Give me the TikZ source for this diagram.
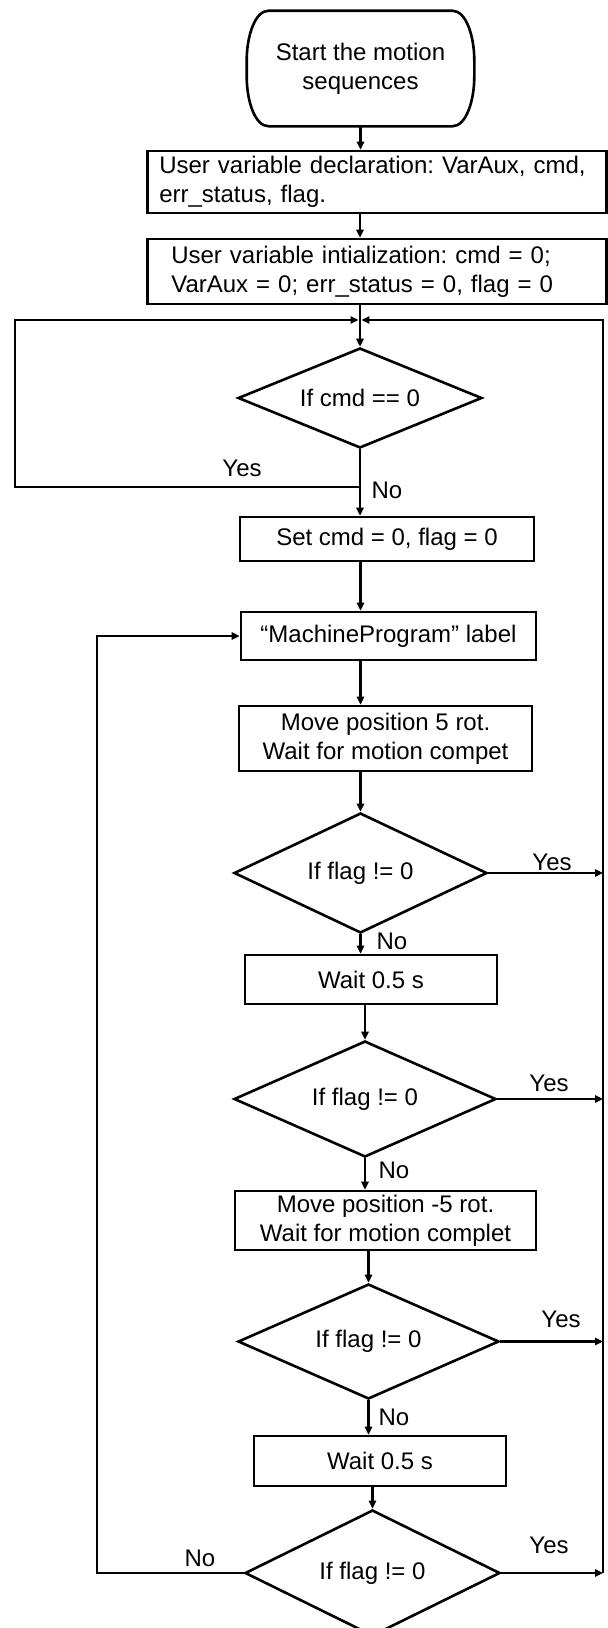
\documentclass[tikz,border=0pt]{standalone}
\usepackage{fontspec}
\setmainfont{Liberation Sans}
\usetikzlibrary{shapes.geometric,arrows.meta}

\begin{document}
\frenchspacing
\begin{tikzpicture}[x=0.5pt,y=0.5pt,yscale=-1,
  font=\fontsize{12pt}{14.5pt}\selectfont,
  line width=1.3pt,
  procbox/.style={draw, rectangle, inner sep=0pt, align=center},
  declbox/.style={draw, rectangle, anchor=west, align=left, inner ysep=2pt},
  decision/.style={draw, diamond, aspect=2.4, inner sep=0pt},
  termtext/.style={rectangle, inner sep=0pt, align=center, minimum width=112.5pt, minimum height=56.5pt},
  flow/.style={-{Triangle[length=4pt,width=3.6pt]}, line width=1.2pt},
  branch/.style={inner sep=0pt}
]
\useasboundingbox (0,0) rectangle (607,1628);

%Shape: Terminal [id:start]
\node[termtext] (start) at (360.5,68.5) {Start the motion\\sequences};
\draw ([xshift=11pt]start.north west) -- ([xshift=-11pt]start.north east)
  .. controls ([xshift=-4pt]start.north east) and ([yshift=-16pt]start.east) .. ([yshift=-4pt]start.east)
  -- ([yshift=4pt]start.east)
  .. controls ([yshift=16pt]start.east) and ([xshift=-4pt]start.south east) .. ([xshift=-11pt]start.south east)
  -- ([xshift=11pt]start.south west)
  .. controls ([xshift=4pt]start.south west) and ([yshift=16pt]start.west) .. ([yshift=4pt]start.west)
  -- ([yshift=-4pt]start.west)
  .. controls ([yshift=-16pt]start.west) and ([xshift=4pt]start.north west) .. cycle ;

%Shape: Rectangle [id:decl]
\node[declbox, inner xsep=6pt, text width=217.5pt, minimum height=31pt] (decl) at (146,182) {User variable declaration: VarAux, cmd,\\err\_status, flag.};
%Shape: Rectangle [id:init]
\node[declbox, inner xsep=12pt, text width=205.5pt, minimum height=32.5pt] (init) at (146,271.5) {User variable intialization: cmd = 0;\\VarAux = 0; err\_status = 0, flag = 0};

%Shape: Diamond [id:cmd]
\node[decision, minimum width=122pt, minimum height=50pt] (cmd) at (360,398) {If cmd == 0};
%Shape: Rectangle [id:set]
\node[procbox, minimum width=147pt, minimum height=22pt] (set) at (387,539) {Set cmd = 0, flag = 0};
%Shape: Rectangle [id:mp]
\node[procbox, minimum width=147.5pt, minimum height=24pt] (mp) at (388.5,636) {“MachineProgram” label};
%Shape: Rectangle [id:move]
\node[procbox, minimum width=146.5pt, minimum height=32.5pt] (move) at (385.5,738.5) {Move position 5 rot.\\Wait for motion compet};
%Shape: Diamond [id:d1]
\node[decision, minimum width=126.5pt, minimum height=60pt] (d1) at (360.5,873) {If flag != 0};
%Shape: Rectangle [id:wait]
\node[procbox, minimum width=126pt, minimum height=24.5pt] (wait) at (371,979.5) {Wait 0.5 s};
%Shape: Diamond [id:d2]
\node[decision, minimum width=131pt, minimum height=58pt] (d2) at (365,1099) {If flag != 0};
%Shape: Rectangle [id:move2]
\node[procbox, minimum width=150.5pt, minimum height=29.5pt] (move2) at (385.5,1220.5) {Move position -5 rot.\\Wait for motion complet};
%Shape: Diamond [id:d3]
\node[decision, minimum width=130.5pt, minimum height=57.5pt] (d3) at (368.5,1341.5) {If flag != 0};
%Shape: Rectangle [id:wait2]
\node[procbox, minimum width=126pt, minimum height=25pt] (wait2) at (380,1461) {Wait 0.5 s};
%Shape: Diamond [id:d4]
\node[decision, minimum width=127.5pt, minimum height=63pt] (d4) at (372.5,1573) {If flag != 0};

%Corners of the loops
\coordinate (jn) at (360,320);
\coordinate (lt) at (15,320);
\coordinate (lb) at (15,487);
\coordinate (cy) at (360,487);
\coordinate (rt) at (603,320);
\coordinate (rb) at (603,1573);
\coordinate (ll) at (97,1573);
\coordinate (lu) at (97,636);

%Straight Lines [id:main]
\draw[flow] (start.south) -- (start.south |- decl.north);
\draw[flow] (decl.south -| cmd.north) -- (init.north -| cmd.north);
\draw[flow] (init.south -| cmd.north) -- (cmd.north);
\draw[flow] (cmd.south) -- (cmd.south |- set.north);
\draw[flow] (set.south -| d1.north) -- (mp.north -| d1.north);
\draw[flow] (mp.south -| d1.north) -- (move.north -| d1.north);
\draw[flow] (move.south -| d1.north) -- (d1.north);
\draw[flow] (d1.south) -- (d1.south |- wait.north);
\draw[flow] (wait.south -| d2.north) -- (d2.north);
\draw[flow] (d2.south) -- (d2.south |- move2.north);
\draw[flow] (move2.south -| d3.north) -- (d3.north);
\draw[flow] (d3.south) -- (d3.south |- wait2.north);
\draw[flow] (wait2.south -| d4.north) -- (d4.north);

%Straight Lines [id:loops]
\draw[flow] (cy) -- (lb) -- (lt) -- ([xshift=-0.7pt]jn);
\draw[flow] (d1.east) -- (d1.east -| rt);
\draw[flow] (d2.east) -- (d2.east -| rt);
\draw[flow] (d3.east) -- (d3.east -| rt);
\draw[flow] (d4.east) -- (rb);
\draw[flow] (rb) -- (rt) -- ([xshift=0.7pt]jn);
\draw[flow] (d4.west) -- (ll) -- (lu) -- (mp.west);

% Text Node
\node[branch] (yes0) at (242,468) {Yes};
% Text Node
\node[branch] (no0) at (387,490) {No};
% Text Node
\node[branch] (yes1) at (552,862) {Yes};
% Text Node
\node[branch] (no1) at (392,941) {No};
% Text Node
\node[branch] (yes2) at (549,1083) {Yes};
% Text Node
\node[branch] (no2) at (394,1170) {No};
% Text Node
\node[branch] (yes3) at (561,1319) {Yes};
% Text Node
\node[branch] (no3) at (394,1417) {No};
% Text Node
\node[branch] (yes4) at (549,1545) {Yes};
% Text Node
\node[branch] (no4) at (200,1558) {No};

\end{tikzpicture}
\end{document}
